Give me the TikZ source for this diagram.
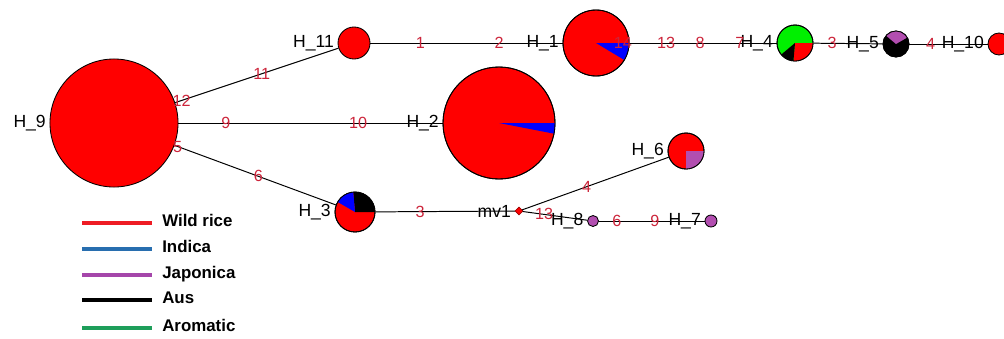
\documentclass[tikz,border=0pt]{standalone}
\usepackage{fontspec}
\setmainfont{Liberation Sans}
\usepackage{xcolor}
\usetikzlibrary{shapes.geometric}

% pie colours
\definecolor{pieRed}{RGB}{255,0,0}
\definecolor{pieBlue}{RGB}{0,0,255}
\definecolor{pieJap}{RGB}{178,78,176}
\definecolor{pieGreen}{RGB}{0,240,0}
% legend colours
\definecolor{legRed}{RGB}{238,28,36}
\definecolor{legBlue}{RGB}{40,110,175}
\definecolor{legJap}{RGB}{165,70,170}
\definecolor{legGreen}{RGB}{30,158,90}
\definecolor{mutRed}{RGB}{204,36,58}

% slice of a haplotype pie: node, from, to, radius (px), colour
\newcommand{\pieslice}[5]{%
  \fill[#5] (#1.center) -- ++(#2:#4*0.025cm)
    arc[start angle=#2, end angle=#3, radius=#4*0.025cm] -- cycle;}
\newcommand{\pierim}[2]{%
  \draw[line width=0.6pt] (#1.center) circle[radius=#2*0.025cm];}

\begin{document}
\begin{tikzpicture}[
    x=0.025cm,
    y=0.025cm,
    hap/.style={circle, draw=black, line width=0.6pt, fill=pieRed,
                inner sep=0pt, minimum size=#1*0.05cm},
    hlab/.style={font=\fontsize{12.5}{14}\selectfont, inner sep=2.5pt},
    mut/.style={text=mutRed, font=\fontsize{11.5}{13}\selectfont, inner sep=0pt},
    edge/.style={line width=0.7pt},
    legline/.style={line width=2.8pt},
    legtext/.style={font=\bfseries\fontsize{12}{14}\selectfont,
                    anchor=base west, inner sep=0pt}
]
\useasboundingbox (0,0) rectangle (1004,338);

% Haplotypes
\node[hap=64, label={[hlab]left:H\_9}]  (h9)  at (114,215) {};
\node[hap=16, label={[hlab]left:H\_11}] (h11) at (354,295) {};
\node[hap=33, label={[hlab]left:H\_1}]  (h1)  at (596,295) {};
\node[hap=56, label={[hlab]left:H\_2}]  (h2)  at (499,215) {};
\node[hap=20, label={[hlab]left:H\_3}]  (h3)  at (355,126) {};
\node[hap=18, label={[hlab]left:H\_6}]  (h6)  at (686,187) {};
\node[hap=18, fill=pieGreen, label={[hlab]left:H\_4}] (h4) at (795,295) {};
\node[hap=13, fill=black, label={[hlab]left:H\_5}]    (h5) at (896,294) {};
\node[hap=11, label={[hlab]left:H\_10}] (h10) at (999,294) {};
\node[hap=5.5, fill=pieJap, label={[hlab]left:H\_8}]  (h8) at (593,117) {};
\node[hap=6, fill=pieJap, label={[hlab]left:H\_7}]    (h7) at (711,117) {};

% Median vector
\node[diamond, fill=pieRed, draw=red!60!black, line width=0.4pt,
      inner sep=0pt, minimum size=0.2cm, label={[hlab]left:mv1}]
      (mv1) at (519,127) {};

% Pie slices
\pieslice{h1}{-31}{0}{33}{pieBlue}   \pierim{h1}{33}
\pieslice{h2}{-11}{0}{56}{pieBlue}   \pierim{h2}{56}
\pieslice{h3}{0}{95}{20}{black}
\pieslice{h3}{95}{150}{20}{pieBlue}  \pierim{h3}{20}
\pieslice{h6}{-90}{0}{18}{pieJap}    \pierim{h6}{18}
\pieslice{h4}{-95}{0}{18}{pieRed}
\pieslice{h4}{-140}{-95}{18}{black}  \pierim{h4}{18}
\pieslice{h5}{30}{140}{13}{pieJap}   \pierim{h5}{13}

% Links with mutated positions
\draw[edge] (h9) -- node[mut,pos=0.04] (q1) {12}
                    node[mut,pos=0.53] (q2) {11} (h11);
\draw[edge] (h9) -- node[mut,pos=0.18] (q3) {9}
                    node[mut,pos=0.68] (q4) {10} (h2);
\draw[edge] (h9) -- node[mut,pos=0.02] (q5) {5}
                    node[mut,pos=0.52] (q6) {6} (h3);
\draw[edge] (h11) -- node[mut,pos=0.26] (q7) {1}
                     node[mut,pos=0.67] (q8) {2} (h1);
\draw[edge] (h1) -- node[mut,pos=0.02,anchor=east] (q9) {14}
                    node[mut,pos=0.25] (q10) {13}
                    node[mut,pos=0.48] (q11) {8}
                    node[mut,pos=0.75] (q12) {7} (h4);
\draw[edge] (h4) -- node[mut,pos=0.27] (q13) {3} (h5);
\draw[edge] (h5) -- node[mut,pos=0.27] (q14) {4} (h10);
\draw[edge] (h3) -- node[mut,pos=0.32] (q15) {3} (mv1);
\draw[edge] (mv1) -- node[mut,pos=0.44] (q16) {4} (h6);
\draw[edge] (mv1) -- node[mut,pos=0.33] (q17) {13} (h8);
\draw[edge] (h8) -- node[mut,pos=0.17] (q18) {6}
                    node[mut,pos=0.53] (q19) {9} (h7);

% Legend
\foreach \nm/\col/\yy [count=\i] in {Wild rice/legRed/115, Indica/legBlue/89,
    Japonica/legJap/63, Aus/black/38, Aromatic/legGreen/10} {
  \draw[legline,\col] (82,\yy) -- (152,\yy);
  \node[legtext] (leg\i) at (162,\yy-3.5) {\nm};
}

\end{tikzpicture}
\end{document}
